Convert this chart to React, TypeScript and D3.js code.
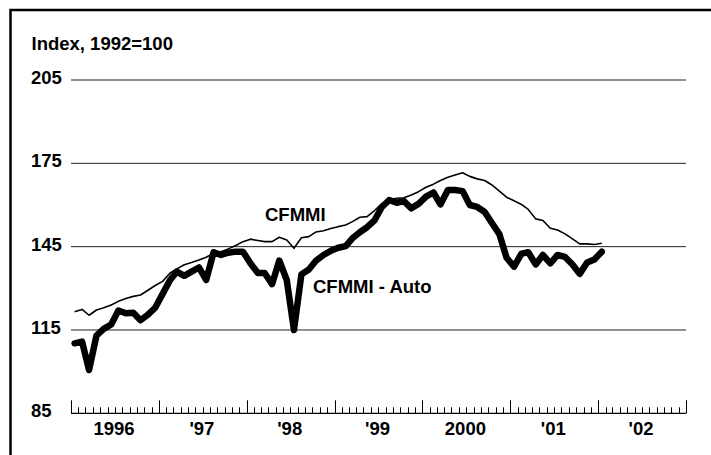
import React from 'react';
import * as d3 from 'd3';

// monthly values, Jan 1996 .. Jan 2002
const cfmmi: number[] = [
  121.6, 122.4, 120.3, 122.2, 123.0, 124.0, 125.3, 126.3, 127.1, 127.6, 129.3, 131.0,
  132.5, 135.5, 137.0, 138.5, 139.3, 140.2, 141.2, 142.6, 143.2, 144.2, 145.4, 146.8,
  147.7, 147.2, 146.8, 146.8, 148.4, 147.4, 144.4, 148.2, 148.6, 150.3, 150.7, 151.5,
  152.2, 152.8, 154.0, 155.6, 155.8, 158.0, 160.5, 161.8, 162.4, 162.6, 163.6, 164.8,
  166.4, 167.5, 168.8, 170.0, 170.8, 171.6, 170.3, 169.4, 168.8, 167.2, 165.0, 162.8,
  161.5, 160.2, 158.4, 155.0, 154.4, 151.6, 151.0, 149.6, 147.8, 146.0, 146.0, 145.8,
  146.2,
];

const cfmmiAuto: number[] = [
  110.2, 110.8, 100.6, 113.0, 115.4, 117.0, 122.0, 121.0, 121.2, 118.5, 120.5, 123.0,
  128.0, 133.0, 136.0, 134.5, 136.0, 137.5, 133.0, 143.0, 142.0, 142.8, 143.2, 143.2,
  139.0, 135.5, 135.5, 131.5, 140.0, 133.0, 115.0, 135.0, 136.8, 140.0, 142.0, 143.5,
  144.6, 145.2, 148.0, 150.2, 152.0, 154.5, 159.2, 161.8, 160.8, 161.4, 158.8, 160.4,
  163.0, 164.5, 160.2, 165.4, 165.4, 165.0, 160.0, 159.3, 157.5, 153.5, 149.5, 141.0,
  137.8, 142.5, 143.0, 138.6, 142.0, 139.0, 142.0, 141.3, 138.6, 135.2, 139.3, 140.4,
  143.2,
];

const yTicks = [85, 115, 145, 175, 205];
const yearLabels = ['1996', "'97", "'98", "'99", '2000', "'01", "'02"];

const W = 711;
const H = 455;
const FONT = '"Liberation Sans", Arial, Helvetica, sans-serif';
const FS = 18.5;

const App: React.FC = () => {
  React.useEffect(() => {
    document.body.style.margin = '0';
  }, []);

  const start = new Date(1996, 0, 1);
  const end = new Date(2003, 0, 1);
  const x = d3.scaleTime().domain([start, end]).range([71, 686]);
  const y = d3.scaleLinear().domain([85, 205]).range([413.3, 80]);

  const monthDate = (i: number) => new Date(1996, i, 16);

  const line = d3
    .line<number>()
    .x((_, i) => x(monthDate(i)))
    .y((d) => y(d));

  const months = d3.timeMonth.range(start, d3.timeMonth.offset(end, 1));
  const years = d3.timeYear.range(start, end);

  return (
    <svg width={W} height={H} style={{ display: 'block', background: '#fff' }}>
      {/* frame */}
      <path d={`M10.5,${H} V10 H${W}`} fill="none" stroke="#000" strokeWidth={2.5} />

      <text x={31.5} y={50} fontFamily={FONT} fontWeight="bold" fontSize={FS} fill="#000">
        Index, 1992=100
      </text>

      {/* horizontal grid + y labels */}
      {yTicks.map((t) => (
        <g key={t}>
          {t !== 85 && (
            <line x1={71} x2={686} y1={y(t)} y2={y(t)} stroke="#222" strokeWidth={1} />
          )}
          <text x={31} y={y(t) + 4} fontFamily={FONT} fontWeight="bold" fontSize={FS} fill="#000">
            {t}
          </text>
        </g>
      ))}

      {/* x axis */}
      <line x1={71} x2={686} y1={y(85)} y2={y(85)} stroke="#000" strokeWidth={1.2} />
      {months.map((m, i) => {
        const major = m.getMonth() === 0;
        const xx = Math.round(x(m)) + 0.5;
        return (
          <line
            key={i}
            x1={xx}
            x2={xx}
            y1={y(85)}
            y2={y(85) - (major ? 13 : 6)}
            stroke="#000"
            strokeWidth={1}
          />
        );
      })}
      {years.map((yr, i) => (
        <text
          key={i}
          x={(x(yr) + x(d3.timeYear.offset(yr, 1))) / 2 - 1}
          y={435}
          textAnchor="middle"
          fontFamily={FONT}
          fontWeight="bold"
          fontSize={FS}
          fill="#000"
        >
          {yearLabels[i]}
        </text>
      ))}

      {/* series */}
      <path d={line(cfmmi) ?? ''} fill="none" stroke="#000" strokeWidth={1.6} strokeLinejoin="round" />
      <path
        d={line(cfmmiAuto) ?? ''}
        fill="none"
        stroke="#000"
        strokeWidth={6.5}
        strokeLinejoin="round"
        strokeLinecap="round"
      />

      <text x={265} y={221} fontFamily={FONT} fontWeight="bold" fontSize={FS} fill="#000">
        CFMMI
      </text>
      <text x={313} y={293} fontFamily={FONT} fontWeight="bold" fontSize={FS} fill="#000">
        CFMMI - Auto
      </text>
    </svg>
  );
};

export default App;
